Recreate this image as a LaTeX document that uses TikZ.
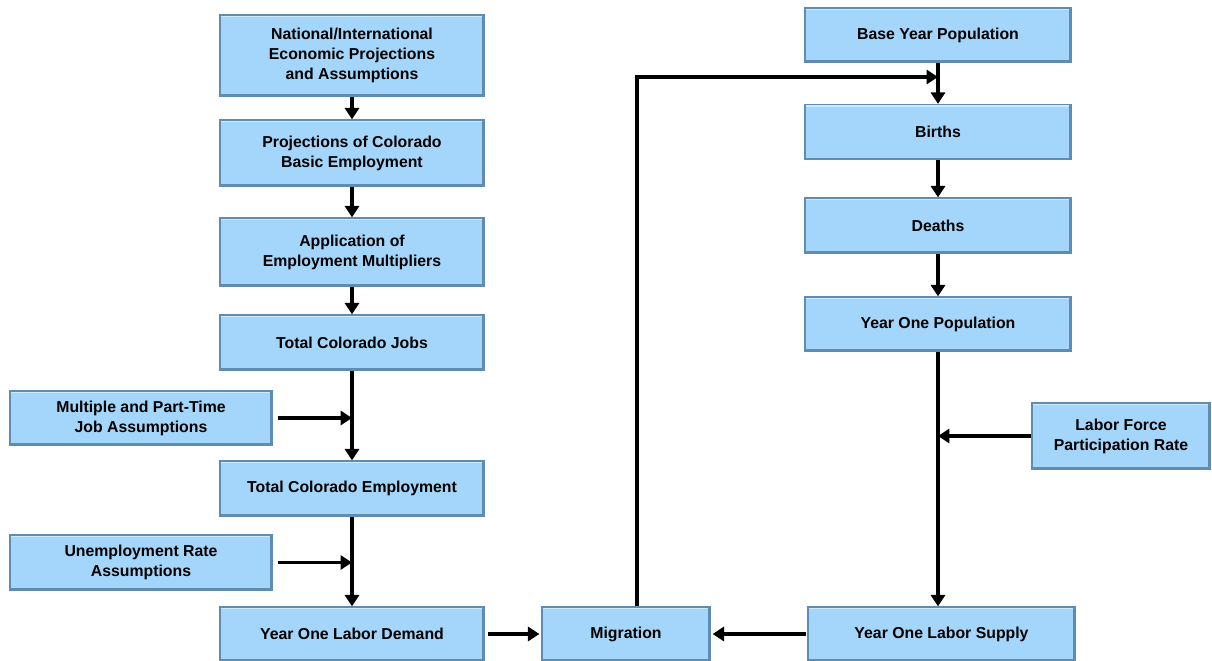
\documentclass[tikz,border=0pt]{standalone}
\usepackage{fontspec}
\setmainfont{Liberation Sans}
\usepackage{tikz}
\usetikzlibrary{positioning}
\usetikzlibrary{arrows.meta}

\definecolor{boxfill}{RGB}{163,214,250}
\definecolor{boxedge}{RGB}{96,140,178}
\definecolor{boxlight}{RGB}{205,235,255}

\tikzset{
    box/.style={draw=boxedge, line width=0.7pt, fill=boxfill, align=center,
        inner sep=0pt, font=\bfseries\fontsize{9}{11.4}\selectfont,
        path picture={
            \draw[boxlight, line width=2.5pt] (path picture bounding box.north west) -- (path picture bounding box.north east);
            \draw[boxedge, line width=2pt] (path picture bounding box.south west) -- (path picture bounding box.south east) -- (path picture bounding box.north east);
        }},
    flow/.style={line width=2.2pt, -{Triangle[length=6.5pt,width=8pt]}}
}

\begin{document}
\begin{tikzpicture}
    \useasboundingbox (0,0) rectangle (24.24,13.22);

    % demand side
    \node[box, minimum width=5.28cm, minimum height=1.62cm] (nat) at (7.04,12.11) {National/International\\Economic Projections\\and Assumptions};
    \node[box, minimum width=5.28cm, minimum height=1.32cm] (proj) at (7.04,10.16) {Projections of Colorado\\Basic Employment};
    \node[box, minimum width=5.28cm, minimum height=1.36cm] (appl) at (7.04,8.18) {Application of\\Employment Multipliers};
    \node[box, minimum width=5.28cm, minimum height=1.1cm] (jobs) at (7.04,6.37) {Total Colorado Jobs};
    \node[box, minimum width=5.24cm, minimum height=1.08cm] (mult) at (2.82,4.86) {Multiple and Part-Time\\Job Assumptions};
    \node[box, minimum width=5.28cm, minimum height=1.1cm] (emp) at (7.04,3.45) {Total Colorado Employment};
    \node[box, minimum width=5.24cm, minimum height=1.1cm] (unemp) at (2.82,1.97) {Unemployment Rate\\Assumptions};
    \node[box, minimum width=5.28cm, minimum height=1.08cm] (demand) at (7.04,0.54) {Year One Labor Demand};

    % middle
    \node[box, minimum width=3.36cm, minimum height=1.08cm] (migr) at (12.52,0.54) {Migration};

    % supply side
    \node[box, minimum width=5.32cm, minimum height=1.08cm] (base) at (18.76,12.52) {Base Year Population};
    \node[box, minimum width=5.32cm, minimum height=1.1cm] (births) at (18.76,10.58) {Births};
    \node[box, minimum width=5.32cm, minimum height=1.1cm] (deaths) at (18.76,8.71) {Deaths};
    \node[box, minimum width=5.32cm, minimum height=1.08cm] (yop) at (18.76,6.74) {Year One Population};
    \node[box, minimum width=3.56cm, minimum height=1.32cm] (lfpr) at (22.42,4.50) {Labor Force\\Participation Rate};
    \node[box, minimum width=5.34cm, minimum height=1.08cm] (supply) at (18.83,0.54) {Year One Labor Supply};

    \coordinate (loop) at (18.76,11.68);   %migration feedback

    \draw[flow] (nat) -- (proj);
    \draw[flow] (proj) -- (appl);
    \draw[flow] (appl) -- (jobs);
    \draw[flow] (jobs) -- (emp);
    \draw[flow] ([xshift=0.1cm]mult.east) -- (jobs.south |- mult.east);
    \draw[flow] (emp) -- (demand);
    \draw[flow] ([xshift=0.1cm]unemp.east) -- (emp.south |- unemp.east);
    \draw[flow] ([xshift=0.06cm]demand.east) -- ([xshift=-0.04cm]migr.west);
    \draw[flow] ([xshift=-0.02cm]supply.west) -- ([xshift=0.04cm]migr.east);
    \draw[flow] ([xshift=0.22cm]migr.north) |- (loop);   %back to population
    \draw[flow] (base) -- (births);
    \draw[flow] (births) -- (deaths);
    \draw[flow] (deaths) -- (yop);
    \draw[flow] (yop.south) -- (yop.south |- supply.north);
    \draw[flow] (lfpr.west) -- (yop.south |- lfpr.west);
\end{tikzpicture}
\end{document}
